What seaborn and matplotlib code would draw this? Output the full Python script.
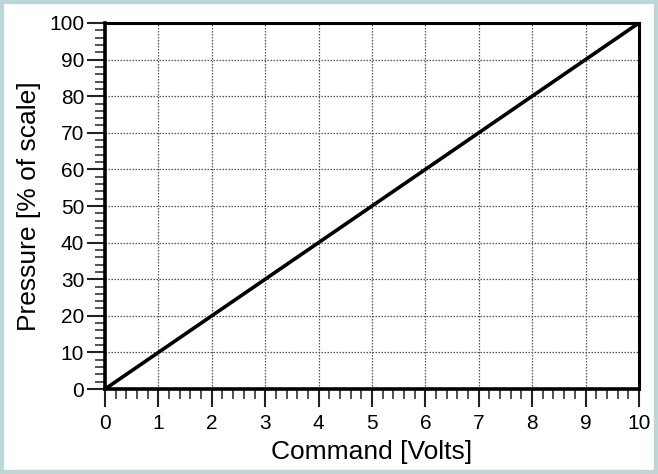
import matplotlib
matplotlib.use('Agg')
import matplotlib.pyplot as plt
import seaborn as sns
import pandas as pd
from matplotlib.ticker import MultipleLocator
from matplotlib.patches import Rectangle

sns.set_style('ticks')
plt.rcParams['font.family'] = ['Liberation Sans', 'DejaVu Sans']
plt.rcParams['text.color'] = 'black'
plt.rcParams['axes.labelcolor'] = 'black'
plt.rcParams['axes.edgecolor'] = 'black'

# data: linear command -> pressure
command_volts = [0, 10]
pressure_pct = [0, 100]
df = pd.DataFrame({'Command [Volts]': command_volts, 'Pressure [% of scale]': pressure_pct})

fig = plt.figure(figsize=(6.58, 4.74), dpi=100)
fig.patch.set_facecolor('white')
# light frame around the panel
fig.patches.append(Rectangle((0, 0), 1, 1, transform=fig.transFigure, fill=False,
                             edgecolor='#bcd5d6', linewidth=6, zorder=0))

ax = fig.add_axes([0.1596, 0.1793, 0.8114, 0.7722])
sns.lineplot(data=df, x='Command [Volts]', y='Pressure [% of scale]', ax=ax,
             color='black', linewidth=2.6)

ax.set_xlim(0, 10)
ax.set_ylim(0, 100)
ax.xaxis.set_major_locator(MultipleLocator(1))
ax.xaxis.set_minor_locator(MultipleLocator(0.2))
ax.yaxis.set_major_locator(MultipleLocator(10))
ax.yaxis.set_minor_locator(MultipleLocator(2))

ax.grid(True, which='major', linestyle=(0, (1.2, 1.2)), color='#555555', linewidth=0.9)
ax.tick_params(which='major', direction='out', length=13, width=1.5, labelsize=15,
               color='#222222', labelcolor='black')
ax.tick_params(which='minor', direction='out', length=7, width=1.1, color='#222222')
ax.tick_params(axis='x', which='major', pad=5)
ax.tick_params(axis='y', which='major', pad=2)

for side in ['left', 'bottom']:
    ax.spines[side].set_linewidth(2.6)
for side in ['top', 'right']:
    ax.spines[side].set_linewidth(2.2)

ax.set_xlabel('Command [Volts]', fontsize=19, labelpad=5)
ax.set_ylabel('Pressure [% of scale]', fontsize=19, labelpad=6)

fig.savefig('out.png', dpi=100)
